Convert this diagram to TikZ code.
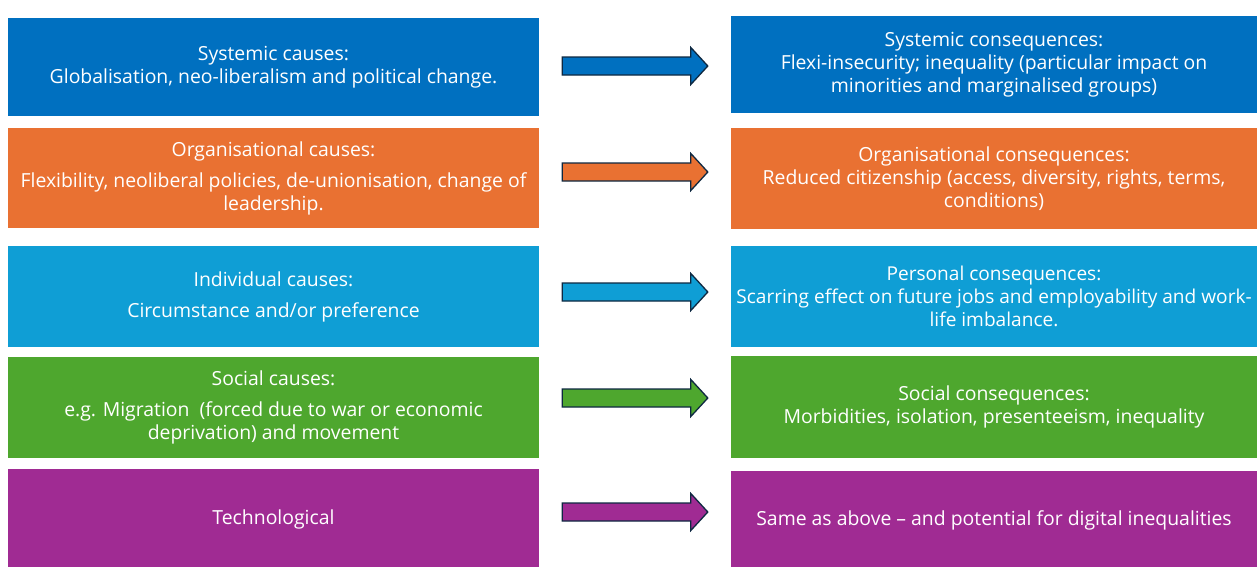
\documentclass[tikz,border=0pt]{standalone}
\usepackage{fontspec}
\setmainfont{Open Sans}
\usetikzlibrary{calc}
\definecolor{cblue}{HTML}{0070C0}
\definecolor{corange}{HTML}{E97132}
\definecolor{ccyan}{HTML}{0F9ED5}
\definecolor{cgreen}{HTML}{4EA72E}
\definecolor{cpurple}{HTML}{A02B93}
\definecolor{outline}{HTML}{0E2841}
\begin{document}
\begin{tikzpicture}[x=1pt,y=-1pt,
  box/.style={draw=none, fill=#1, text=white, inner sep=0pt, align=center,
    font=\fontsize{19.4}{23}\selectfont},
  lbox/.style={box=#1, minimum width=531pt},
  rbox/.style={box=#1, minimum width=526pt},
  blockarrow/.style={draw=outline, line width=1.3pt, line join=miter, fill=#1}]
\useasboundingbox (0,0) rectangle (1257,566);
\begin{scope}
\clip (0,0) rectangle (1257,566);
% causes (left column)
\node[lbox=cblue, minimum height=98pt] (L1) at (273.5,67)
  {Systemic causes:\\ Globalisation, neo-liberalism and political change.};
\node[lbox=corange, minimum height=100pt] (L2) at (273.5,178)
  {Organisational causes:\\[8pt] Flexibility, neoliberal policies, de-unionisation, change of\\ leadership.};
\node[lbox=ccyan, minimum height=101pt] (L3) at (273.5,296.5)
  {Individual causes:\\[8pt] Circumstance and/or preference};
\node[lbox=cgreen, minimum height=101pt] (L4) at (273.5,407.5)
  {Social causes:\\[8pt] e.g. Migration\ \ (forced due to war or economic\\ deprivation) and movement};
\node[lbox=cpurple, minimum height=101pt] (L5) at (273.5,519.5)
  {Technological};
% consequences (right column)
\node[rbox=cblue, minimum height=97pt] (R1) at (994,64.5)
  {Systemic consequences:\\ Flexi-insecurity; inequality (particular impact on\\ minorities and marginalised groups)};
\node[rbox=corange, minimum height=101pt] (R2) at (994,178.5)
  {Organisational consequences:\\ Reduced citizenship (access, diversity, rights, terms,\\ conditions)};
\node[rbox=ccyan, minimum height=101pt, font=\fontsize{19.1}{23}\selectfont] (R3) at (994,296.5)
  {Personal consequences:\\ Scarring effect on future jobs and employability and work-\\ life imbalance.};
\node[rbox=cgreen, minimum height=102pt] (R4) at (994,407)
  {Social consequences:\\ Morbidities, isolation, presenteeism, inequality};
\node[rbox=cpurple, minimum height=99pt] (R5) at (994,520.5)
  {Same as above -- and potential for digital inequalities};
\end{scope}
% block arrows from each cause to its consequence
\foreach \i/\c/\dy in {1/cblue/-1, 2/corange/-6, 3/ccyan/-4.5, 4/cgreen/-9.5, 5/cpurple/-7.5}{
  \draw[blockarrow=\c]
    ($(L\i.east)+(23,\dy+9)$) -- ($(R\i.west |- L\i.east)+(-40,\dy+9)$)
    -- ++(0,9.5) -- ($(R\i.west |- L\i.east)+(-23,\dy)$)
    -- ($(R\i.west |- L\i.east)+(-40,\dy-18.5)$) -- ++(0,9.5)
    -- ($(L\i.east)+(23,\dy-9)$) -- cycle;
}
\end{tikzpicture}
\end{document}
